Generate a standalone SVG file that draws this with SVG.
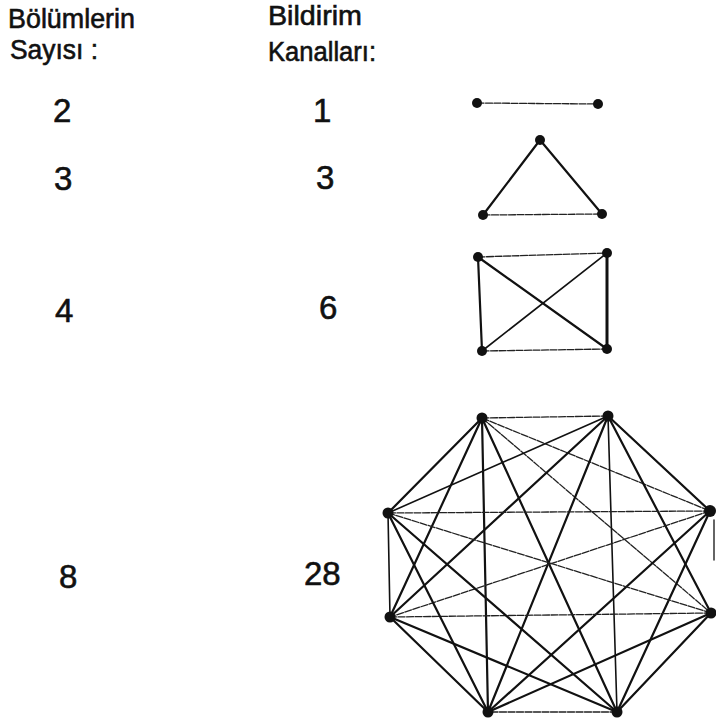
<svg xmlns="http://www.w3.org/2000/svg" width="716" height="722" viewBox="0 0 716 722">
<style>
.t{font-family:"Liberation Sans","DejaVu Sans",sans-serif;fill:#111;stroke:#111;stroke-width:0.6}
.h{font-size:27px}
.n{font-size:33px}
.e{stroke:#111;stroke-width:2.2;stroke-linecap:round;fill:none}
.l{stroke:#222;stroke-width:1.3;stroke-linecap:round;fill:none;stroke-dasharray:7 1.5}
.v{fill:#111}
</style>
<rect width="716" height="722" fill="#fff"/>
<g id="headers">
<text class="t h" x="8" y="28" textLength="127" lengthAdjust="spacingAndGlyphs">Bölümlerin</text>
<text class="t h" x="10" y="59" textLength="88" lengthAdjust="spacingAndGlyphs">Sayısı :</text>
<text class="t h" x="268" y="25" textLength="94" lengthAdjust="spacingAndGlyphs">Bildirim</text>
<text class="t h" x="268" y="61" textLength="108" lengthAdjust="spacingAndGlyphs">Kanalları:</text>
</g>
<g id="counts">
<text class="t n" x="53" y="122">2</text>
<text class="t n" x="54" y="190">3</text>
<text class="t n" x="55" y="322">4</text>
<text class="t n" x="59" y="588">8</text>
<text class="t n" x="313" y="122">1</text>
<text class="t n" x="316" y="189">3</text>
<text class="t n" x="319" y="319">6</text>
<text class="t n" x="304" y="585">28</text>
</g>
<g id="connectors">
<line class="l" x1="477" y1="103" x2="598" y2="104"/>
<line class="e" x1="540" y1="140" x2="483" y2="215"/>
<line class="e" x1="540" y1="140" x2="602" y2="214"/>
<line class="l" x1="483" y1="215" x2="602" y2="214"/>
<line class="l" x1="478" y1="257" x2="607" y2="253"/>
<line class="e" x1="478" y1="257" x2="482" y2="351"/>
<line class="e" x1="607" y1="253" x2="607" y2="349" style="stroke-width:3"/>
<line class="l" x1="482" y1="351" x2="607" y2="349"/>
<line class="e" x1="478" y1="257" x2="607" y2="349"/>
<line class="e" x1="607" y1="253" x2="482" y2="351" style="stroke-width:1.6"/>
<line class="l" x1="482" y1="418" x2="608" y2="416"/>
<line class="l" x1="482" y1="418" x2="710" y2="511"/>
<line class="l" x1="482" y1="418" x2="711" y2="613"/>
<line class="e" x1="482" y1="418" x2="617" y2="712"/>
<line class="e" x1="482" y1="418" x2="488" y2="712"/>
<line class="e" x1="482" y1="418" x2="390" y2="617"/>
<line class="e" x1="482" y1="418" x2="388" y2="513"/>
<line class="e" x1="608" y1="416" x2="710" y2="511"/>
<line class="e" x1="608" y1="416" x2="711" y2="613"/>
<line class="e" x1="608" y1="416" x2="617" y2="712" style="stroke-width:1.6"/>
<line class="e" x1="608" y1="416" x2="488" y2="712"/>
<line class="e" x1="608" y1="416" x2="390" y2="617"/>
<line class="e" x1="608" y1="416" x2="388" y2="513" style="stroke-width:1.6"/>
<line class="e" x1="714" y1="520" x2="714" y2="560" style="stroke-width:1.3"/>
<line class="e" x1="710" y1="511" x2="617" y2="712"/>
<line class="e" x1="710" y1="511" x2="488" y2="712"/>
<line class="l" x1="710" y1="511" x2="390" y2="617"/>
<line class="l" x1="710" y1="511" x2="388" y2="513"/>
<line class="e" x1="711" y1="613" x2="617" y2="712"/>
<line class="e" x1="711" y1="613" x2="488" y2="712"/>
<line class="l" x1="711" y1="613" x2="390" y2="617"/>
<line class="l" x1="711" y1="613" x2="388" y2="513"/>
<line class="l" x1="617" y1="712" x2="488" y2="712"/>
<line class="e" x1="617" y1="712" x2="390" y2="617"/>
<line class="e" x1="617" y1="712" x2="388" y2="513"/>
<line class="e" x1="488" y1="712" x2="390" y2="617"/>
<line class="e" x1="488" y1="712" x2="388" y2="513"/>
<line class="e" x1="390" y1="617" x2="388" y2="513" style="stroke-width:1.6"/>
</g>
<g id="k2-a"><circle class="v" cx="477" cy="103" r="5"/></g>
<g id="k2-b"><circle class="v" cx="598" cy="104" r="5"/></g>
<g id="k3-a"><circle class="v" cx="540" cy="140" r="5"/></g>
<g id="k3-b"><circle class="v" cx="483" cy="215" r="5"/></g>
<g id="k3-c"><circle class="v" cx="602" cy="214" r="5"/></g>
<g id="k4-a"><circle class="v" cx="478" cy="257" r="5"/></g>
<g id="k4-b"><circle class="v" cx="607" cy="253" r="5"/></g>
<g id="k4-c"><circle class="v" cx="607" cy="349" r="5"/></g>
<g id="k4-d"><circle class="v" cx="482" cy="351" r="5"/></g>
<g id="k8-a"><circle class="v" cx="482" cy="418" r="5.5"/></g>
<g id="k8-b"><circle class="v" cx="608" cy="416" r="5.5"/></g>
<g id="k8-c"><circle class="v" cx="710" cy="511" r="6"/></g>
<g id="k8-d"><circle class="v" cx="711" cy="613" r="5.5"/></g>
<g id="k8-e"><circle class="v" cx="617" cy="712" r="5.5"/></g>
<g id="k8-f"><circle class="v" cx="488" cy="712" r="5.5"/></g>
<g id="k8-g"><circle class="v" cx="390" cy="617" r="5.5"/></g>
<g id="k8-h"><circle class="v" cx="388" cy="513" r="5.5"/></g>
</svg>
